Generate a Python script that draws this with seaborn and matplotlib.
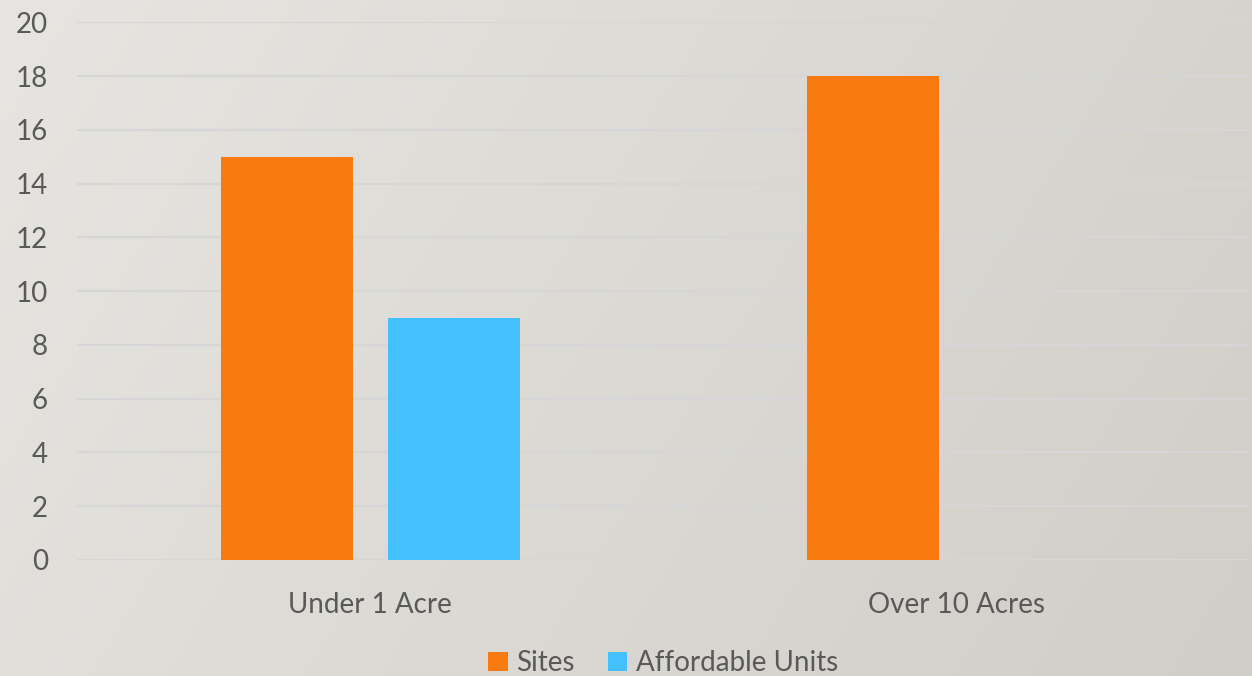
import numpy as np
import pandas as pd
import matplotlib
matplotlib.use("Agg")
import matplotlib.pyplot as plt
from matplotlib.colors import LinearSegmentedColormap
import seaborn as sns

categories = ["Under 1 Acre", "Over 10 Acres"]
series = ["Sites", "Affordable Units"]
sites = [15, 18]
affordable_units = [9, 0]
y_ticks = [0, 2, 4, 6, 8, 10, 12, 14, 16, 18, 20]

df = pd.DataFrame({
    "category": categories * 2,
    "series": [series[0]] * 2 + [series[1]] * 2,
    "value": sites + affordable_units,
})

sns.set_theme(style="white")
plt.rcParams["font.family"] = ["Lato", "DejaVu Sans"]
text_col = "#595959"

fig = plt.figure(figsize=(12.52, 6.76), dpi=100)

# soft grey gradient backdrop
bg = fig.add_axes([0, 0, 1, 1])
gx, gy = np.meshgrid(np.linspace(0, 1, 300), np.linspace(0, 1, 160))
grad = 0.75 * gx + 0.25 * gy
cmap = LinearSegmentedColormap.from_list("bg", ["#e7e5e1", "#d1cec8"])
bg.imshow(grad, cmap=cmap, aspect="auto", extent=[0, 1, 0, 1], origin="upper")
bg.axis("off")

ax = fig.add_axes([0.0615, 0.1716, 0.9365, 0.7955])
ax.patch.set_alpha(0)
sns.barplot(data=df, x="category", y="value", hue="series",
            palette=["#f97a10", "#43c0fd"], width=0.57, gap=0.21,
            saturation=1, linewidth=0, edgecolor="none", ax=ax, zorder=3)

ax.set_ylim(0, 20)
ax.set_yticks(y_ticks)
ax.set_xlim(-0.5, 1.5)
for y in y_ticks:
    ax.axhline(y, color="#d6d6d6", lw=1.6, zorder=1)
for s in ax.spines.values():
    s.set_visible(False)
ax.set_xlabel("")
ax.set_ylabel("")
ax.tick_params(axis="y", length=0, pad=21, labelsize=20, labelcolor=text_col)
ax.tick_params(axis="x", length=0, pad=23, labelsize=20, labelcolor=text_col)
for lab in ax.get_yticklabels():
    lab.set_horizontalalignment("right")

ax.legend(loc="upper center", bbox_to_anchor=(0.5, -0.168), ncol=2, frameon=False,
          fontsize=20, labelcolor=text_col, handlelength=0.7, handleheight=0.7,
          handletextpad=0.3, columnspacing=1.2, borderaxespad=0, borderpad=0)

fig.savefig("out.png", dpi=100)
